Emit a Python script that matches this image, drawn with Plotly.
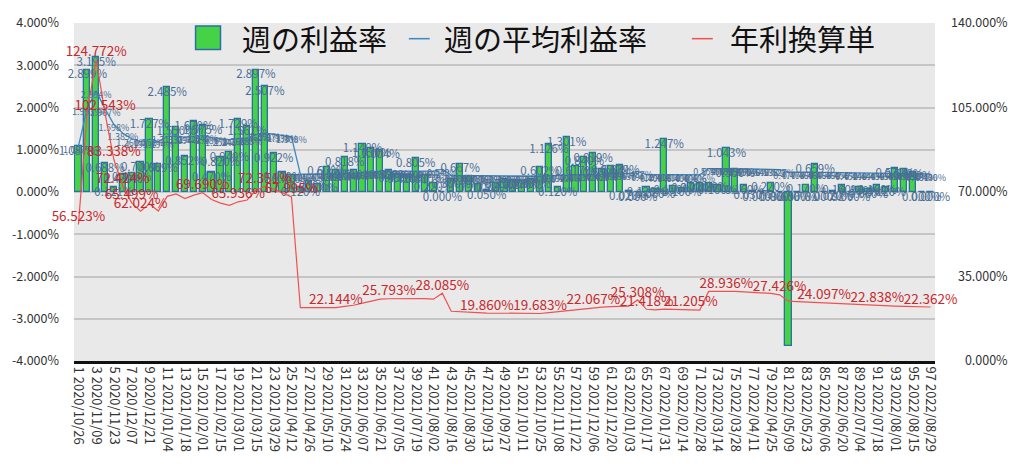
import plotly.graph_objects as go
from datetime import date, timedelta

# ---------------- data ----------------
weeks = list(range(1, 98))
start_day = date(2020, 10, 26)
week_labels = [f"{n} {(start_day + timedelta(weeks=n - 1)).strftime('%Y/%m/%d')}" for n in weeks]

weekly_rate = [
    1.087, 2.899, 3.195, 0.688, 0.121, 0.420, 0.455, 0.700, 1.727, 0.669,
    2.485, 1.550, 0.852, 1.670, 1.575, 0.470, 0.820, 0.949, 1.729, 1.561,
    2.897, 2.507, 0.922, 0.470, 0.410, 0.120, 0.260, 0.200, 0.600, 0.530,
    0.818, 0.510, 1.140, 1.030, 1.004, 0.520, 0.433, 0.410, 0.805, 0.410,
    0.220, 0.000, 0.300, 0.667, 0.380, 0.200, 0.050, 0.220, 0.310, 0.290,
    0.270, 0.300, 0.602, 1.126, 0.120, 1.301, 0.617, 0.840, 0.919, 0.550,
    0.620, 0.639, 0.020, 0.000, 0.120, 0.060, 1.247, 0.150, 0.100, 0.210,
    0.210, 0.220, 0.160, 1.043, 0.550, 0.160, 0.030, 0.000, 0.220, 0.000,
    -3.650, 0.000, 0.170, 0.659, 0.000, 0.020, 0.160, 0.000, 0.130, 0.060,
    0.160, 0.120, 0.570, 0.540, 0.480, 0.000, 0.000]

avg_rate = [
    1.087, 1.993, 2.394, 1.967, 1.598, 1.389, 1.260, 1.193, 1.252, 1.194,
    1.311, 1.331, 1.294, 1.321, 1.340, 1.286, 1.258, 1.241, 1.268, 1.283,
    1.360, 1.391, 1.371, 1.338, 1.308, 0.425, 0.425, 0.423, 0.425, 0.426,
    0.435, 0.444, 0.462, 0.477, 0.492, 0.496, 0.496, 0.498, 0.500, 0.496,
    0.492, 0.540, 0.396, 0.390, 0.387, 0.385, 0.382, 0.381, 0.380, 0.379,
    0.377, 0.378, 0.379, 0.385, 0.392, 0.404, 0.412, 0.417, 0.424, 0.429,
    0.433, 0.435, 0.437, 0.487, 0.412, 0.408, 0.413, 0.412, 0.408, 0.408,
    0.406, 0.554, 0.556, 0.556, 0.554, 0.550, 0.546, 0.542, 0.538, 0.527,
    0.477, 0.473, 0.469, 0.467, 0.463, 0.460, 0.456, 0.452, 0.448, 0.444,
    0.439, 0.438, 0.437, 0.435, 0.433, 0.431, 0.430]

annual_rate = [
    56.523, 103.6, 124.772, 102.543, 83.338, 72.424, 65.499, 62.024, 65.1, 62.1,
    68.2, 69.2, 67.3, 68.7, 69.690, 66.9, 65.4, 64.5, 65.936, 66.7,
    70.7, 72.351, 71.3, 69.6, 67.995, 22.1, 22.1, 22.0, 22.1, 22.144,
    22.6, 23.1, 24.0, 24.8, 25.6, 25.793, 25.8, 25.9, 26.0, 25.8,
    25.6, 28.085, 20.6, 20.3, 20.1, 20.0, 19.860, 19.8, 19.75, 19.7,
    19.6, 19.65, 19.683, 20.0, 20.4, 21.0, 21.4, 21.7, 22.067, 22.3,
    22.5, 22.6, 22.7, 25.308, 21.418, 21.2, 21.5, 21.4, 21.2, 21.205,
    21.1, 28.8, 28.9, 28.936, 28.8, 28.6, 28.4, 28.2, 28.0, 27.426,
    24.8, 24.6, 24.4, 24.3, 24.097, 23.9, 23.7, 23.5, 23.3, 23.1,
    22.838, 22.75, 22.7, 22.6, 22.5, 22.4, 22.362]

annual_label_weeks = [1, 3, 4, 5, 6, 7, 8, 15, 19, 22, 25, 30, 36, 42, 47, 53,
                      59, 64, 65, 70, 74, 80, 85, 91, 97]

left_ticks = [-4, -3, -2, -1, 0, 1, 2, 3, 4]
left_ticktext = [f"{v:.3f}%" for v in left_ticks]
right_ticks = [0, 35, 70, 105, 140]
right_ticktext = ["\u2007\u20070.000%", "\u200735.000%", "\u200770.000%", "105.000%", "140.000%"]

legend_names = ["週の利益率", "週の平均利益率", "年利換算単"]

# ---------------- style ----------------
FONT = "Noto Sans CJK JP, Noto Sans, sans-serif"
BAR_FILL = "#46d246"
BAR_EDGE = "#2b6fa6"
BLUE = "#3a88c6"
RED = "#f25050"
BLUE_TXT = "#4a6f95"
RED_TXT = "#c8282c"

L, R, T, B = 71, 89, 16, 109
W, H = 1024, 470
PW, PH = W - L - R, H - T - B


def px(x):
    return (x - L) / PW


def py(y):
    return (H - B - y) / PH


fig = go.Figure()

fig.add_trace(go.Bar(
    x=weeks, y=weekly_rate, width=0.7,
    marker=dict(color=BAR_FILL, line=dict(color=BAR_EDGE, width=1.3)),
    showlegend=False, hoverinfo="skip"))

fig.add_trace(go.Scatter(
    x=weeks, y=avg_rate, mode="lines",
    line=dict(color=BLUE, width=1.3), showlegend=False, hoverinfo="skip"))

fig.add_trace(go.Scatter(
    x=weeks, y=annual_rate, mode="lines", yaxis="y2",
    line=dict(color=RED, width=1.2), showlegend=False, hoverinfo="skip"))

# bar value labels
fig.add_trace(go.Scatter(
    x=weeks, y=[max(v, 0) for v in weekly_rate], mode="text",
    text=[f"{v:.3f}%" for v in weekly_rate], textposition="bottom center",
    textfont=dict(family=FONT, size=11.5, color=BLUE_TXT),
    cliponaxis=False, showlegend=False, hoverinfo="skip"))

# average labels
fig.add_trace(go.Scatter(
    x=weeks, y=avg_rate, mode="text",
    text=[f"{v:.3f}%" for v in avg_rate], textposition="bottom center",
    textfont=dict(family=FONT, size=9, color=BLUE_TXT),
    cliponaxis=False, showlegend=False, hoverinfo="skip"))

# annual labels
fig.add_trace(go.Scatter(
    x=annual_label_weeks, y=[annual_rate[w - 1] for w in annual_label_weeks],
    mode="text", yaxis="y2",
    text=[f"{annual_rate[w - 1]:.3f}%" for w in annual_label_weeks],
    textposition="top center",
    textfont=dict(family=FONT, size=13.5, color=RED_TXT),
    cliponaxis=False, showlegend=False, hoverinfo="skip"))

# manual legend
shapes = [
    dict(type="rect", xref="paper", yref="paper",
         x0=px(193), x1=px(218), y0=py(43), y1=py(19),
         fillcolor=BAR_FILL, line=dict(color=BAR_EDGE, width=1.5)),
    dict(type="line", xref="paper", yref="paper",
         x0=px(407), x1=px(428), y0=py(32), y1=py(32),
         line=dict(color=BLUE, width=1.5)),
    dict(type="line", xref="paper", yref="paper",
         x0=px(691), x1=px(712), y0=py(32), y1=py(32),
         line=dict(color=RED, width=1.5)),
]
legend_x = [238, 440, 727]
annotations = [
    dict(text=name, x=px(x), y=py(31), xref="paper", yref="paper",
         xanchor="left", yanchor="middle", showarrow=False,
         font=dict(family=FONT, size=29, color="#111111"))
    for name, x in zip(legend_names, legend_x)
]

tickfont = dict(family=FONT, size=12.5, color="#333333")
xtickfont = dict(family=FONT, size=13, color="#333333")

fig.update_layout(
    width=W, height=H,
    margin=dict(l=L, r=R, t=T, b=B, pad=0),
    paper_bgcolor="white", plot_bgcolor="#e9e9e9",
    font=dict(family=FONT),
    shapes=shapes, annotations=annotations,
    bargap=0,
    xaxis=dict(range=[0.5, 97.5], tickmode="array",
               tickvals=weeks[::2], ticktext=week_labels[::2],
               tickangle=90, tickfont=xtickfont, showgrid=False,
               showline=True, linecolor="#111111", linewidth=3,
               ticks="", zeroline=False, fixedrange=True),
    yaxis=dict(range=[-4, 4], tickmode="array", tickvals=left_ticks,
               ticktext=left_ticktext, tickfont=tickfont,
               showgrid=True, gridcolor="#c5c5c5", gridwidth=1.6,
               zeroline=False, showline=False, ticks="",
               ticklabelstandoff=14),
    yaxis2=dict(range=[0, 140], overlaying="y", side="right",
                tickmode="array", tickvals=right_ticks,
                ticktext=right_ticktext, tickfont=tickfont,
                showgrid=False, zeroline=False, showline=False, ticks="",
                ticklabelstandoff=15),
)

fig.write_html("out.html")
